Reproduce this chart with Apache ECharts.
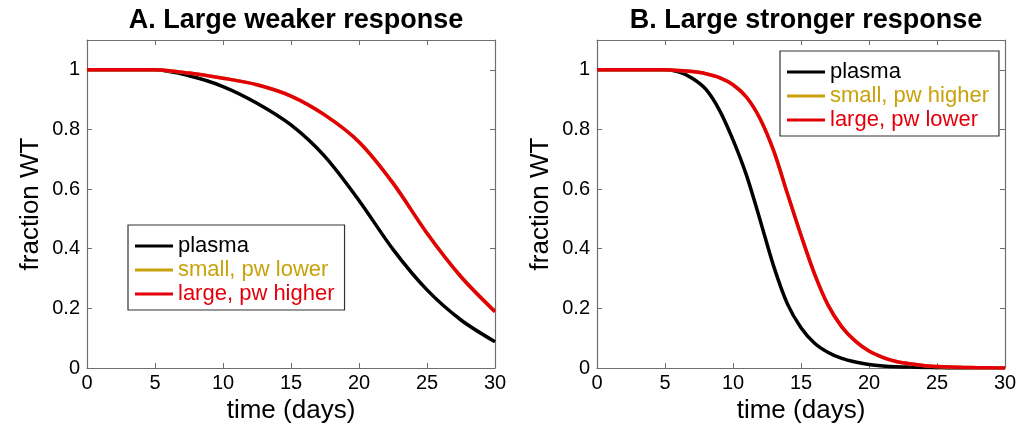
<!DOCTYPE html>
<html><head><meta charset="utf-8">
<script src="https://cdn.jsdelivr.net/npm/echarts@6/dist/echarts.min.js"></script>
<style>html,body{margin:0;padding:0;background:#fff}#c{width:1020px;height:432px}</style>
</head><body><div id="c"></div>
<script>
// ---- data ----
const titles = ['A. Large weaker response', 'B. Large stronger response'];
const xTicks = [0, 5, 10, 15, 20, 25, 30];
const yTicks = [0, 0.2, 0.4, 0.6, 0.8, 1];
const daysA = [0, 2.5, 5, 7.5, 10, 12.5, 15, 17.5, 20, 22.5, 25, 27.5, 30];
const plasmaA = [1, 1, 1, 0.98, 0.944, 0.888, 0.815, 0.709, 0.562, 0.398, 0.262, 0.161, 0.088];
const smallA = [1, 1, 1, 0.989, 0.972, 0.95, 0.912, 0.848, 0.758, 0.62, 0.452, 0.306, 0.189];
const largeA = [1, 1, 1, 0.989, 0.972, 0.95, 0.912, 0.848, 0.758, 0.62, 0.452, 0.306, 0.189];
const daysB = [0, 1, 2, 3, 4, 5, 6, 7, 8, 9, 10, 11, 12, 13, 14, 15, 16, 17, 18, 19, 20, 21, 22, 23, 24, 25, 26, 27, 28, 29, 30];
const plasmaB = [1, 1, 1, 1, 1, 1, 0.993, 0.972, 0.935, 0.865, 0.765, 0.645, 0.495, 0.34, 0.215, 0.135, 0.083, 0.052, 0.032, 0.02, 0.012, 0.007, 0.004, 0.003, 0.002, 0.001, 0, 0, 0, 0, 0];
const smallB = [1, 1, 1, 1, 1, 1, 0.998, 0.994, 0.987, 0.974, 0.95, 0.908, 0.835, 0.727, 0.585, 0.445, 0.315, 0.21, 0.138, 0.09, 0.057, 0.036, 0.022, 0.014, 0.008, 0.005, 0.003, 0.002, 0.001, 0.0005, 0];
const largeB = [1, 1, 1, 1, 1, 1, 0.998, 0.994, 0.987, 0.974, 0.95, 0.908, 0.835, 0.727, 0.585, 0.445, 0.315, 0.21, 0.138, 0.09, 0.057, 0.036, 0.022, 0.014, 0.008, 0.005, 0.003, 0.002, 0.001, 0.0005, 0];
const namesA = ['plasma', 'small, pw lower', 'large, pw higher'];
const namesB = ['plasma ', 'small, pw higher', 'large, pw lower'];
const colors = ['#000000', '#c9a20b', '#e3000b'];

// ---- chart ----
const FONT = 'Liberation Sans, Arial, sans-serif';
const AX = '#6e6e6e';
function pair(a, b) { return a.map((v, i) => [v, b[i]]); }
function xAx(g, pos, show) {
  return {
    type: 'value', gridIndex: g, position: pos, min: 0, max: 30, interval: 5,
    name: show ? 'time (days)' : '', nameLocation: 'middle', nameGap: 27,
    nameTextStyle: { fontFamily: FONT, fontSize: 26, color: '#000' },
    axisLine: { show: true, onZero: false, lineStyle: { color: AX, width: 1.2 } },
    axisTick: { show: true, inside: true, length: 5, lineStyle: { color: AX } },
    axisLabel: { show: show, fontFamily: FONT, fontSize: 20, color: '#000', margin: 5 },
    splitLine: { show: false }
  };
}
function yAx(g, pos, show) {
  return {
    type: 'value', gridIndex: g, position: pos, min: 0, max: 1.1, interval: 0.2,
    name: show ? 'fraction WT' : '', nameLocation: 'middle', nameGap: 43,
    nameTextStyle: { fontFamily: FONT, fontSize: 26, color: '#000' },
    axisLine: { show: true, onZero: false, lineStyle: { color: AX, width: 1.2 } },
    axisTick: { show: true, inside: true, length: 5, lineStyle: { color: AX } },
    axisLabel: { show: show, fontFamily: FONT, fontSize: 20, color: '#000', margin: 7,
      formatter: v => (yTicks.some(t => Math.abs(t - v) < 1e-9) ? String(+v.toFixed(1)) : '') },
    splitLine: { show: false }
  };
}
function ser(name, xs, ys, col, xi, yi) {
  return {
    type: 'line', name: name, xAxisIndex: xi, yAxisIndex: yi, data: pair(xs, ys),
    smooth: 0.3, showSymbol: false, symbol: 'none',
    lineStyle: { color: col, width: 3.5 }, itemStyle: { color: col }, animation: false
  };
}
function legend(names, left, top) {
  return {
    orient: 'vertical', left: left, top: top, padding: [9, 10, 4, 7], itemGap: 0,
    itemWidth: 38, itemHeight: 3, icon: 'rect',
    borderColor: '#333', borderWidth: 1.2, backgroundColor: '#fff',
    selectedMode: false,
    data: names.map((n, i) => ({ name: n, textStyle: { color: colors[i], fontFamily: FONT, fontSize: 22, lineHeight: 24 } }))
  };
}
const option = {
  backgroundColor: '#fff',
  animation: false,
  title: [
    { text: titles[0], left: 291, top: 2, textAlign: 'center', textStyle: { fontFamily: FONT, fontSize: 27, fontWeight: 'bold', color: '#000' } },
    { text: titles[1], left: 801, top: 2, textAlign: 'center', textStyle: { fontFamily: FONT, fontSize: 27, fontWeight: 'bold', color: '#000' } }
  ],
  grid: [
    { left: 87, right: 525, top: 40, bottom: 64, containLabel: false },
    { left: 597, right: 15, top: 40, bottom: 64, containLabel: false }
  ],
  xAxis: [xAx(0, 'bottom', true), xAx(0, 'top', false), xAx(1, 'bottom', true), xAx(1, 'top', false)],
  yAxis: [yAx(0, 'left', true), yAx(0, 'right', false), yAx(1, 'left', true), yAx(1, 'right', false)],
  legend: [legend(namesA, 128, 225), legend(namesB, 780, 51)],
  series: [
    ser(namesA[0], daysA, plasmaA, colors[0], 0, 0),
    ser(namesA[1], daysA, smallA, colors[1], 0, 0),
    ser(namesA[2], daysA, largeA, colors[2], 0, 0),
    ser(namesB[0], daysB, plasmaB, colors[0], 2, 2),
    ser(namesB[1], daysB, smallB, colors[1], 2, 2),
    ser(namesB[2], daysB, largeB, colors[2], 2, 2)
  ]
};
const chart = echarts.init(document.getElementById('c'), null, { renderer: 'canvas' });
chart.setOption(option);
</script></body></html>
